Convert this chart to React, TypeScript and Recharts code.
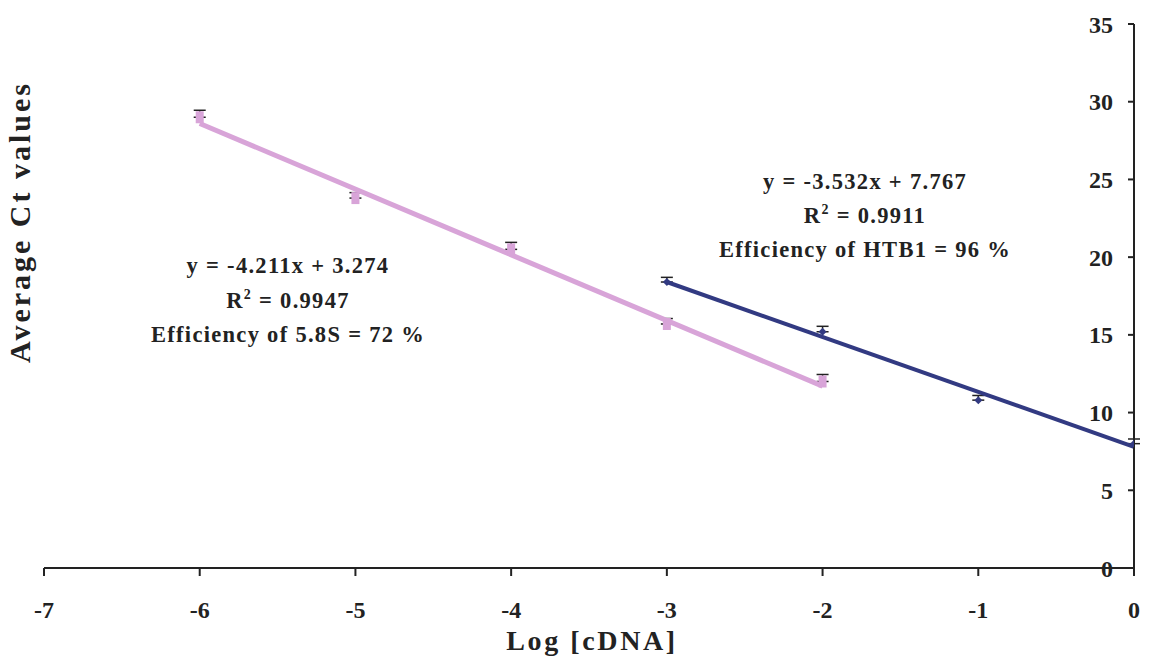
import React from "react";
import { ComposedChart, Scatter, Line, XAxis, YAxis, ErrorBar } from "recharts";

const xTicks = [-7, -6, -5, -4, -3, -2, -1, 0];
const yTicks = [0, 5, 10, 15, 20, 25, 30, 35];

const pinkX = [-6, -5, -4, -3, -2];
const pinkY = [29.0, 23.8, 20.5, 15.7, 12.0];
const pinkErrUp = [0.45, 0.35, 0.45, 0.35, 0.45];

const navyX = [-3, -2, -1, 0];
const navyY = [18.4, 15.2, 10.8, 8.0];
const navyErrUp = [0.3, 0.35, 0.3, 0.3];

const pinkTrendX = [-6, -2];
const pinkTrendY = [28.6, 11.7];
const navyTrendX = [-3, 0];
const navyTrendY = [18.4, 7.8];

const PINK = "#D8A4D8";
const NAVY = "#323A82";
const FONT = "'Liberation Serif', 'Times New Roman', serif";

const pinkData = pinkX.map((x, i) => ({ x, y: pinkY[i], e: [0, pinkErrUp[i]] }));
const navyData = navyX.map((x, i) => ({ x, y: navyY[i], e: [0, navyErrUp[i]] }));
const pinkTrend = pinkTrendX.map((x, i) => ({ x, t: pinkTrendY[i] }));
const navyTrend = navyTrendX.map((x, i) => ({ x, t: navyTrendY[i] }));

const Square = (props: any) => {
  const { cx, cy } = props;
  return <rect x={cx - 4} y={cy - 6} width={8} height={12} fill={PINK} />;
};
const Diamond = (props: any) => {
  const { cx, cy } = props;
  return <path d={`M${cx},${cy - 4} L${cx + 4},${cy} L${cx},${cy + 4} L${cx - 4},${cy} Z`} fill={NAVY} />;
};

const tickStyle = { fontFamily: FONT, fontSize: 24, fontWeight: 700, fill: "#222" };

export default function App() {
  return (
    <div style={{ position: "absolute", left: 0, top: 0, width: 1149, height: 666, background: "#fff" }}>
      <ComposedChart
        width={1149}
        height={666}
        margin={{ top: 24, right: 15, left: 44, bottom: 0 }}
      >
        <XAxis
          type="number"
          dataKey="x"
          domain={[-7, 0]}
          ticks={xTicks}
          allowDataOverflow
          height={98}
          tickSize={8}
          tickMargin={25}
          stroke="#222"
          strokeWidth={2}
          tick={tickStyle}
        />
        <YAxis
          type="number"
          orientation="right"
          mirror
          width={1}
          domain={[0, 35]}
          ticks={yTicks}
          tickSize={6}
          tickMargin={15}
          stroke="#222"
          strokeWidth={2}
          tick={tickStyle}
        />
        <Scatter data={pinkData} dataKey="y" shape={<Square />} isAnimationActive={false}>
          <ErrorBar dataKey="e" direction="y" width={6} stroke="#222" strokeWidth={1.5} />
        </Scatter>
        <Scatter data={navyData} dataKey="y" shape={<Diamond />} isAnimationActive={false}>
          <ErrorBar dataKey="e" direction="y" width={6} stroke="#222" strokeWidth={1.5} />
        </Scatter>
        <Line data={pinkTrend} dataKey="t" stroke={PINK} strokeWidth={5} dot={false} isAnimationActive={false} />
        <Line data={navyTrend} dataKey="t" stroke={NAVY} strokeWidth={4} dot={false} isAnimationActive={false} />
      </ComposedChart>
      <svg
        width={1149}
        height={666}
        style={{ position: "absolute", left: 0, top: 0, pointerEvents: "none" }}
        fontFamily={FONT}
        fontWeight={700}
        fill="#222"
      >
        <text x={30} y={222} fontSize={30} letterSpacing={3} textAnchor="middle" transform="rotate(-90 30 222)">
          Average Ct values
        </text>
        <text x={592} y={650} fontSize={28} letterSpacing={2.6} textAnchor="middle">
          Log [cDNA]
        </text>
        <g fontSize={22.5} letterSpacing={1.3} textAnchor="middle">
          <text x={288} y={273}>y = -4.211x + 3.274</text>
          <text x={288} y={307.5}>R<tspan dy={-9} fontSize={14}>2</tspan><tspan dy={9}> = 0.9947</tspan></text>
          <text x={288} y={342}>Efficiency of 5.8S = 72 %</text>
          <text x={865} y={189}>y = -3.532x + 7.767</text>
          <text x={865} y={223}>R<tspan dy={-9} fontSize={14}>2</tspan><tspan dy={9}> = 0.9911</tspan></text>
          <text x={865} y={257}>Efficiency of HTB1 = 96 %</text>
        </g>
      </svg>
    </div>
  );
}
